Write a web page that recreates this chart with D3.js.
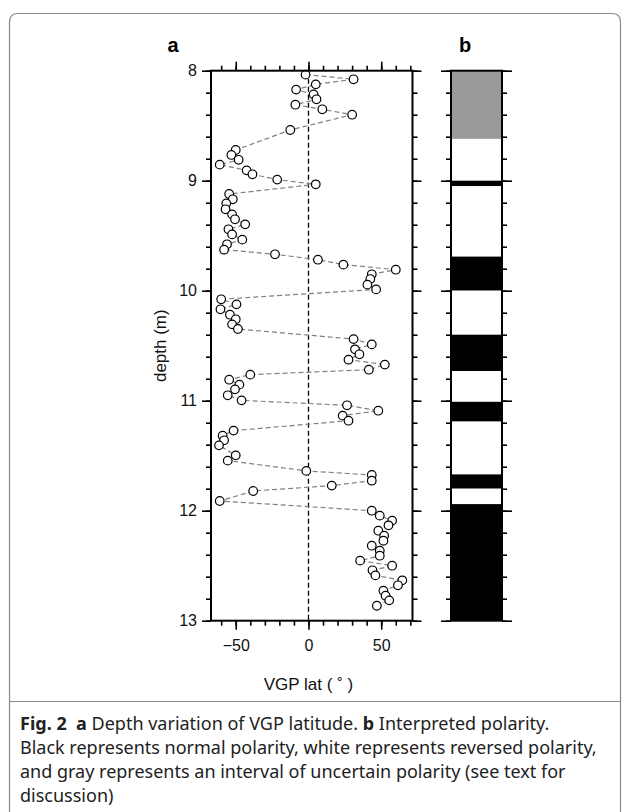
<!DOCTYPE html>
<html>
<head>
<meta charset="utf-8">
<script src="https://cdn.jsdelivr.net/npm/d3@7"></script>
<style>
  body { margin: 0; background: #fff; }
  svg { display: block; }
  text { font-family: "Liberation Sans", Arial, sans-serif; }
</style>
</head>
<body>
<svg id="chart"></svg>
<script>
// depth (m) of each sample, top to bottom
const depths = [
  8.036, 8.078, 8.124, 8.172, 8.215, 8.26, 8.309, 8.351, 8.40, 8.539,
  8.721, 8.766, 8.81, 8.854, 8.906, 8.942, 8.99, 9.033, 9.121, 9.169,
  9.206, 9.26, 9.306, 9.351, 9.397, 9.442, 9.488, 9.536, 9.578, 9.627,
  9.669, 9.718, 9.763, 9.809, 9.851, 9.894, 9.945, 9.988, 10.078, 10.124,
  10.169, 10.218, 10.26, 10.306, 10.348, 10.44, 10.488, 10.533, 10.578, 10.627,
  10.672, 10.718, 10.763, 10.809, 10.854, 10.897, 10.951, 10.997, 11.042, 11.091,
  11.136, 11.182, 11.272, 11.318, 11.36, 11.406, 11.497, 11.545, 11.638, 11.675,
  11.727, 11.772, 11.821, 11.912, 12.0, 12.045, 12.09, 12.133, 12.182, 12.227,
  12.273, 12.318, 12.363, 12.409, 12.454, 12.5, 12.542, 12.588, 12.633, 12.678,
  12.727, 12.773, 12.815, 12.864
];
// VGP latitude (deg) for each sample
const vgpLat = [
  -2, 31, 5, -8.5, 3.5, 5.5, -9, 9.5, 30, -12.5,
  -50, -53, -48, -61, -42.5, -38.5, -21.5, 5, -54.5, -52,
  -56.5, -57, -52.5, -50.5, -43.5, -55, -52.5, -45.5, -56, -58,
  -23, 6.5, 24, 60, 43.5, 42.5, 40.5, 46.5, -60, -49.5,
  -60.5, -54, -50, -52.5, -48.5, 31, 43.5, 32, 35, 27.5,
  52.5, 41.5, -40, -54.5, -47.5, -50.5, -55.5, -46, 26.5, 48,
  23.5, 27.5, -51.5, -59, -58, -61.5, -50, -55.5, -1.5, 43.5,
  43.5, 16, -38, -61, 43.5, 49, 57.5, 55, 48, 52,
  51.5, 43.5, 49, 49, 35.5, 57.5, 44, 46, 64.5, 61.5,
  51.5, 53, 55.5, 47
];

// interpreted polarity column
const polarityTop    = [8.0, 8.62, 9.0, 9.05, 9.69, 10.0, 10.4, 10.73, 11.01, 11.19, 11.67, 11.8, 11.94];
const polarityBottom = [8.62, 9.0, 9.05, 9.69, 10.0, 10.4, 10.73, 11.01, 11.19, 11.67, 11.8, 11.94, 13.0];
const polarityKind   = ['uncertain', 'reversed', 'normal', 'reversed', 'normal', 'reversed', 'normal',
                        'reversed', 'normal', 'reversed', 'normal', 'reversed', 'normal'];

const depthTicks = [8, 9, 10, 11, 12, 13];
const depthMinorTicks = d3.range(8, 13.001, 0.2);
const latTicks = [-50, 0, 50];
const latMinorTicks = d3.range(-60, 71, 10);

const W = 630, H = 812;
const svg = d3.select('#chart').attr('width', W).attr('height', H);

// outer frame
svg.append('path')
  .attr('d', 'M9.5,812 L9.5,22 Q9.5,13.5 18,13.5 L612,13.5 Q620.5,13.5 620.5,22 L620.5,812')
  .attr('fill', 'none')
  .attr('stroke', '#8a8a8a')
  .attr('stroke-width', 1.2);

// scales
const y = d3.scaleLinear().domain([8, 13]).range([70.7, 620.7]);
const x = d3.scaleLinear().domain([-67, 71.5]).range([211, 412.5]);
const colLeft = 451, colRight = 502;

const polColor = { uncertain: '#999999', reversed: '#ffffff', normal: '#000000' };

// ---- panel a ----
const pa = svg.append('g');

function addAxis(axisFn, scale, values, size, transform, labels) {
  const g = pa.append('g')
    .attr('transform', transform)
    .call(axisFn(scale).tickValues(values).tickSize(size).tickPadding(5)
      .tickFormat(labels ? d => d3.format('d')(d).replace('-', '\u2212') : ''));
  g.select('.domain').remove();
  g.selectAll('.tick line').attr('stroke', '#000').attr('stroke-width', 1.6);
  g.selectAll('.tick text').style('font-size', '16px').attr('fill', '#111');
  return g;
}

addAxis(d3.axisLeft, y, depthMinorTicks, 5, `translate(${x.range()[0]},0)`, false);
addAxis(d3.axisLeft, y, depthTicks, 9, `translate(${x.range()[0]},0)`, true);
addAxis(d3.axisRight, y, depthMinorTicks, 5, `translate(${x.range()[1]},0)`, false);
addAxis(d3.axisRight, y, depthTicks, 9, `translate(${x.range()[1]},0)`, false);
addAxis(d3.axisTop, x, latMinorTicks, 5, `translate(0,${y.range()[0]})`, false);
addAxis(d3.axisTop, x, latTicks, 9, `translate(0,${y.range()[0]})`, false);
addAxis(d3.axisBottom, x, latMinorTicks, 5, `translate(0,${y.range()[1]})`, false);
addAxis(d3.axisBottom, x, latTicks, 9, `translate(0,${y.range()[1]})`, true)
  .selectAll('.tick text').attr('dy', '1.05em');

// zero line
pa.append('line')
  .attr('x1', x(0)).attr('x2', x(0))
  .attr('y1', y(8)).attr('y2', y(13))
  .attr('stroke', '#000')
  .attr('stroke-width', 1.3)
  .attr('stroke-dasharray', '5,3');

// data
const samples = depths.map((d, i) => ({ depth: d, lat: vgpLat[i] }));

const line = d3.line()
  .x(d => x(d.lat))
  .y(d => y(d.depth));

pa.append('path')
  .datum(samples)
  .attr('d', line)
  .attr('fill', 'none')
  .attr('stroke', '#808080')
  .attr('stroke-width', 1.2)
  .attr('stroke-dasharray', '5,3');

pa.selectAll('circle.pt')
  .data(samples)
  .enter()
  .append('circle')
  .attr('class', 'pt')
  .attr('cx', d => x(d.lat))
  .attr('cy', d => y(d.depth))
  .attr('r', 4.3)
  .attr('fill', '#fff')
  .attr('stroke', '#000')
  .attr('stroke-width', 1.2);

// frame
pa.append('rect')
  .attr('x', x.range()[0]).attr('y', y.range()[0])
  .attr('width', x.range()[1] - x.range()[0])
  .attr('height', y.range()[1] - y.range()[0])
  .attr('fill', 'none')
  .attr('stroke', '#000')
  .attr('stroke-width', 2);

// labels
pa.append('text')
  .attr('x', 173).attr('y', 52)
  .attr('text-anchor', 'middle')
  .style('font-size', '20px').style('font-weight', 'bold')
  .text('a');

pa.append('text')
  .attr('x', x(0)).attr('y', 690)
  .attr('text-anchor', 'middle')
  .style('font-size', '17px')
  .attr('fill', '#111')
  .text('VGP lat ( \u02da )');

pa.append('text')
  .attr('transform', `translate(166,${(y.range()[0] + y.range()[1]) / 2}) rotate(-90)`)
  .attr('text-anchor', 'middle')
  .style('font-size', '17px')
  .attr('fill', '#111')
  .text('depth (m)');

// ---- panel b ----
const pb = svg.append('g');

pb.selectAll('rect.pol')
  .data(polarityKind.map((k, i) => ({ kind: k, top: polarityTop[i], bottom: polarityBottom[i] })))
  .enter()
  .append('rect')
  .attr('class', 'pol')
  .attr('x', colLeft)
  .attr('width', colRight - colLeft)
  .attr('y', d => y(d.top))
  .attr('height', d => y(d.bottom) - y(d.top))
  .attr('fill', d => polColor[d.kind]);

function addColAxis(axisFn, values, size, xPos) {
  const g = pb.append('g')
    .attr('transform', `translate(${xPos},0)`)
    .call(axisFn(y).tickValues(values).tickSize(size).tickFormat(''));
  g.select('.domain').remove();
  g.selectAll('.tick line').attr('stroke', '#000').attr('stroke-width', 1.6);
}
addColAxis(d3.axisLeft, depthMinorTicks, 5, colLeft);
addColAxis(d3.axisLeft, depthTicks, 10, colLeft);
addColAxis(d3.axisRight, depthMinorTicks, 5, colRight);
addColAxis(d3.axisRight, depthTicks, 10, colRight);

pb.append('rect')
  .attr('x', colLeft).attr('y', y.range()[0])
  .attr('width', colRight - colLeft)
  .attr('height', y.range()[1] - y.range()[0])
  .attr('fill', 'none')
  .attr('stroke', '#000')
  .attr('stroke-width', 2);

pb.append('text')
  .attr('x', 465).attr('y', 52)
  .attr('text-anchor', 'middle')
  .style('font-size', '20px').style('font-weight', 'bold')
  .text('b');

// ---- caption ----
svg.append('line')
  .attr('x1', 9.5).attr('x2', 620.5)
  .attr('y1', 701.5).attr('y2', 701.5)
  .attr('stroke', '#8a8a8a')
  .attr('stroke-width', 1.2);

const captionLines = [
  [['Fig. 2', true], ['  ', false], ['a', true], [' Depth variation of VGP latitude. ', false], ['b', true], [' Interpreted polarity.', false]],
  [['Black represents normal polarity, white represents reversed polarity,', false]],
  [['and gray represents an interval of uncertain polarity (see text for', false]],
  [['discussion)', false]]
];

const cap = svg.append('text')
  .attr('x', 20)
  .style('font-family', '"Noto Sans", "Open Sans", sans-serif')
  .style('font-size', '18px')
  .attr('fill', '#222');

captionLines.forEach((parts, i) => {
  parts.forEach((p, j) => {
    const t = cap.append('tspan')
      .style('font-weight', p[1] ? 'bold' : 'normal')
      .style('white-space', 'pre')
      .text(p[0]);
    if (j === 0) t.attr('x', 20).attr('y', 730 + i * 24);
  });
});
</script>
</body>
</html>
